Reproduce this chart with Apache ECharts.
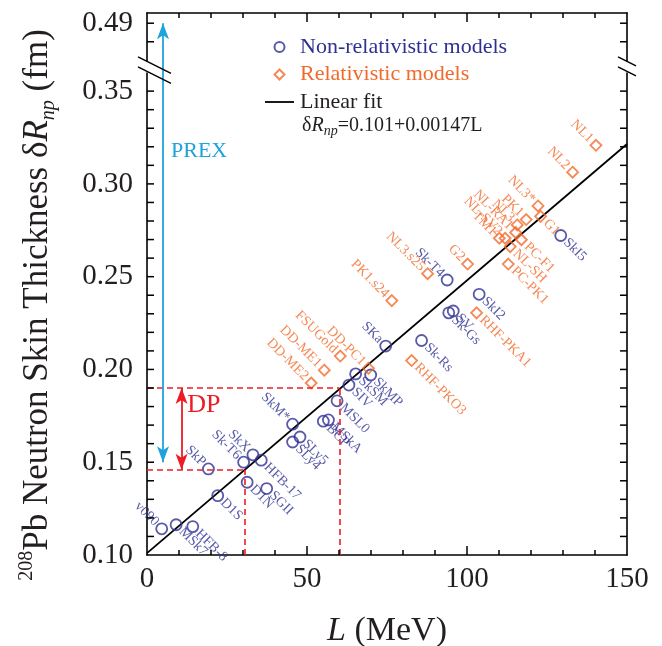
<!DOCTYPE html>
<html><head><meta charset="utf-8">
<script src="https://cdn.jsdelivr.net/npm/echarts@6/dist/echarts.min.js"></script>
<style>html,body{margin:0;padding:0;background:#fff}#c{width:662px;height:646px}</style>
</head><body><div id="c"></div>
<script>
// ---- data ----
const nrNames = ['v090','MSk7','HFB-8','D1S','SkP','D1N','SGII','Sk-T6','SkX','HFB-17','SkM*','SLy5','SLy4','MSkA','BCP','MSL0','SIV','SkSM','SkMP','SKa','Sk-Rs','SV','Sk-Gs','Sk-T4','SkI2','SkI5'];
const nrL = [4.6, 9.1, 14.3, 22.1, 19.2, 31.3, 37.4, 30.2, 33.1, 35.7, 45.5, 47.8, 45.5, 56.7, 55.1, 59.4, 63.1, 65.2, 69.9, 74.6, 85.8, 95.7, 94.3, 93.8, 103.8, 129.3];
const nrR = [0.1141, 0.1163, 0.1153, 0.1320, 0.1464, 0.1392, 0.1358, 0.1500, 0.1540, 0.1511, 0.1705, 0.1636, 0.1609, 0.1728, 0.1721, 0.1831, 0.1916, 0.1976, 0.1970, 0.2126, 0.2156, 0.2315, 0.2305, 0.2482, 0.2405, 0.2722];

const rNames = ['DD-ME2','DD-ME1','FSUGold','DD-PC1','PK1.s24','NL3.s25','RHF-PKO3','RHF-PKA1','G2','TM1','NL-SV2','NL-RA1','NL3','PK1','NL3*','G1','PC-F1','NL-SH','PC-PK1','NL2','NL1'];
const rL = [51.3, 55.4, 60.4, 69.2, 76.5, 87.7, 82.7, 103.0, 100.2, 110.1, 111.9, 115.2, 115.7, 118.5, 122.2, 123.0, 117.0, 113.5, 112.9, 133.0, 140.3];
const rR = [0.1927, 0.1996, 0.2072, 0.2006, 0.2371, 0.2516, 0.2048, 0.2305, 0.2568, 0.2707, 0.2707, 0.2738, 0.2779, 0.2808, 0.2881, 0.2825, 0.2699, 0.2662, 0.2568, 0.3063, 0.3208];

const fitIntercept = 0.101, fitSlope = 0.00147, fitLRange = [0, 150];
const prexL = 5, prexRange = [0.15, 0.49];
const dpL = 10.8, dpRange = [0.146, 0.19], dpCrossL = [30.7, 60.1];
const prexTextAt = [7.5, 0.3175], dpTextAt = [12.6, 0.181];
const yLabelValues = [0.10, 0.15, 0.20, 0.25, 0.30, 0.35, 0.49];
const yBreak = [0.36, 0.47];
const xRange = [0, 150], yRange = [0.10, 0.4955];

// ---- style ----
const BLUE = '#2e3192', ORANGE = '#f26a2a', CYAN = '#1ea3dc', RED = '#ed1c24', INK = '#231f20';
const SERIF = "'Liberation Serif','Times New Roman',serif";
const upLeftLabels = new Set(['v090','SkP','Sk-T6','SkX','SkM*','SKa','Sk-T4',
  'DD-ME2','DD-ME1','FSUGold','DD-PC1','PK1.s24','NL3.s25','G2','TM1','NL-SV2','NL-RA1','NL3','PK1','NL3*','NL2','NL1']);

function makeData(names, Ls, Rs) {
  return names.map((n, i) => ({
    name: n, value: [Ls[i], Rs[i]],
    label: upLeftLabels.has(n) ? { align: 'right', offset: [-7, 0] } : { align: 'left', offset: [7, 0] }
  }));
}
function ptLabel(color) {
  return { show: true, position: 'inside', formatter: '{b}', rotate: -45, verticalAlign: 'middle',
           color: color, fontFamily: SERIF, fontSize: 14 };
}
const fitData = fitLRange.map(L => [L, fitIntercept + fitSlope * L]);

function yFmt(v) {
  const k = Math.round(v * 100);
  if (Math.abs(v * 100 - k) > 1e-6) return '';
  return yLabelValues.some(t => Math.round(t * 100) === k) ? v.toFixed(2) : '';
}
const yCommon = {
  type: 'value', min: yRange[0], max: yRange[1], interval: 0.01,
  breaks: [{ start: yBreak[0], end: yBreak[1], gap: 0.0066 }],
  breakArea: { show: false, itemStyle: { opacity: 0, borderWidth: 0 }, zigzagAmplitude: 0 },
  axisLine: { show: true, onZero: false, lineStyle: { color: '#000', width: 1.6 } },
  axisTick: { show: false },
  splitLine: { show: false }
};
const xCommon = {
  type: 'value', min: xRange[0], max: xRange[1], interval: 50,
  axisLine: { show: true, onZero: false, lineStyle: { color: '#000', width: 1.6 } },
  axisTick: { show: false }, minorTick: { show: false },
  splitLine: { show: false }, minorSplitLine: { show: false }
};

const option = {
  animation: false,
  backgroundColor: '#fff',
  grid: { left: 147, right: 35, top: 13, bottom: 91, outerBoundsMode: 'none', containLabel: false },
  xAxis: [
    Object.assign({}, xCommon, {
      position: 'bottom',
      axisLabel: { fontFamily: SERIF, fontSize: 29, color: INK, margin: 10 },
      name: '{it|L} (MeV)', nameLocation: 'middle', nameGap: 59,
      nameTextStyle: { fontFamily: SERIF, fontSize: 34, color: INK,
        rich: { it: { fontFamily: SERIF, fontSize: 34, fontStyle: 'italic', color: INK } } }
    }),
    Object.assign({}, xCommon, { position: 'top', axisLabel: { show: false } })
  ],
  yAxis: [
    Object.assign({}, yCommon, {
      position: 'left',
      axisLabel: { fontFamily: SERIF, fontSize: 29, color: INK, margin: 14, padding: [5, 0, 0, 0], formatter: yFmt }
    }),
    Object.assign({}, yCommon, { position: 'right', axisLabel: { show: false } })
  ],
  legend: {
    orient: 'vertical', left: 260, top: 31, itemWidth: 29, itemHeight: 10, itemGap: 5.5,
    symbolKeepAspect: true,
    textStyle: { fontFamily: SERIF, fontSize: 22, padding: [0, 0, 0, 1] },
    selectedMode: false,
    data: [
      { name: 'Non-relativistic models', textStyle: { color: BLUE } },
      { name: 'Relativistic models', icon: 'path://M5,0 L10,5 L5,10 L0,5 Z', textStyle: { color: ORANGE } },
      { name: 'Linear fit', icon: 'path://M0,0 H29 V1.8 H0 Z', textStyle: { color: INK } }
    ]
  },
  series: [
    {
      name: 'Linear fit', type: 'line', data: fitData, showSymbol: false, symbol: 'none',
      lineStyle: { color: '#000', width: 1.8 }, itemStyle: { color: '#000' }, silent: true, z: 2
    },
    {
      name: 'Non-relativistic models', type: 'scatter', symbol: 'circle', symbolSize: 11,
      itemStyle: { color: 'rgba(255,255,255,0)', borderColor: BLUE, borderWidth: 1.8 },
      label: ptLabel(BLUE), data: makeData(nrNames, nrL, nrR), silent: true, z: 3
    },
    {
      name: 'Relativistic models', type: 'scatter', symbol: 'diamond', symbolSize: 11,
      itemStyle: { color: 'rgba(255,255,255,0)', borderColor: ORANGE, borderWidth: 1.8 },
      label: ptLabel(ORANGE), data: makeData(rNames, rL, rR), silent: true, z: 3
    },
    {
      name: 'dashes', type: 'scatter', data: [], silent: true, z: 1,
      markLine: {
        silent: true, animation: false, symbol: ['none', 'none'], label: { show: false },
        lineStyle: { color: RED, width: 1.6, type: [6, 4] },
        data: [
          [{ coord: [xRange[0], dpRange[1]] }, { coord: [dpCrossL[1], dpRange[1]] }],
          [{ coord: [xRange[0], dpRange[0]] }, { coord: [dpCrossL[0], dpRange[0]] }],
          [{ coord: [dpCrossL[0], yRange[0]] }, { coord: [dpCrossL[0], dpRange[0]] }],
          [{ coord: [dpCrossL[1], yRange[0]] }, { coord: [dpCrossL[1], dpRange[1]] }]
        ]
      }
    },
    {
      name: 'arrows', type: 'scatter', data: [], silent: true, z: 4,
      markLine: {
        silent: true, animation: false, symbol: ['arrow', 'arrow'], symbolSize: [9, 16],
        label: { show: false },
        data: [
          [{ coord: [prexL, prexRange[0]], lineStyle: { color: CYAN, width: 1.8, type: 'solid' }, itemStyle: { color: CYAN } },
           { coord: [prexL, prexRange[1]], itemStyle: { color: CYAN } }],
          [{ coord: [dpL, dpRange[0]], lineStyle: { color: RED, width: 1.8, type: 'solid' }, itemStyle: { color: RED } },
           { coord: [dpL, dpRange[1]], itemStyle: { color: RED } }]
        ]
      },
      markPoint: {
        silent: true, animation: false, symbol: 'rect', symbolSize: 1,
        itemStyle: { color: 'rgba(0,0,0,0)' },
        data: [
          { coord: prexTextAt, label: { show: true, position: 'inside', align: 'left', formatter: 'PREX',
              color: CYAN, fontFamily: SERIF, fontSize: 22 } },
          { coord: dpTextAt, label: { show: true, position: 'inside', align: 'left', formatter: 'DP',
              color: RED, fontFamily: SERIF, fontSize: 26 } }
        ]
      }
    }
  ]
};

const chart = echarts.init(document.getElementById('c'), null, { renderer: 'canvas' });
chart.setOption(option);

// ---- break marks, ticks (values from the library's own axis scales) & texts ----
const toX = v => chart.convertToPixel({ xAxisIndex: 0 }, v);
const toY = v => chart.convertToPixel({ yAxisIndex: 0 }, v);
const gL = toX(xRange[0]), gR = toX(xRange[1]), gBot = toY(yRange[0]), gTop = toY(yRange[1]);
const g = [];
const y36 = toY(yBreak[0]), y47 = toY(yBreak[1]);
const mid = (y36 + y47) / 2;
const xp = toX(prexL);
function cover(x, y, w, h) { g.push({ type: 'rect', shape: { x, y, width: w, height: h }, style: { fill: '#fff' }, z: 100, silent: true }); }
function seg(x1, y1, x2, y2) { g.push({ type: 'line', shape: { x1: x1, y1: y1, x2: x2, y2: y2 }, style: { stroke: '#000', lineWidth: 1.5 }, z: 101, silent: true }); }
function slash(x0, yk, a, b) { seg(x0 + a, yk + 0.5 * a, x0 + b, yk + 0.5 * b); }
cover(gL - 3, mid - 5, 6, 10);
cover(gR - 3, mid - 5, 6, 10);
[mid - 5, mid + 5].forEach(yk => { slash(gL, yk, -9, (xp - gL) + 8); slash(gR, yk, -9, 9); });

function vtick(p, len) { seg(p, gBot, p, gBot - len); seg(p, gTop, p, gTop + len); }
function htick(p, len) { seg(gL, p, gL + len, p); seg(gR, p, gR - len, p); }
const tv = t => (typeof t === 'number' ? t : (t && typeof t.value === 'number' ? t.value : NaN));
let xMajor = [], yTicks = [];
try { xMajor = chart.getModel().getComponent('xAxis', 0).axis.scale.getTicks().map(tv).filter(v => isFinite(v)); } catch (e) {}
try { yTicks = chart.getModel().getComponent('yAxis', 0).axis.scale.getTicks().map(tv).filter(v => isFinite(v)); } catch (e) {}
const xMinor = [];
for (let i = 0; i + 1 < xMajor.length; i++) for (let k = 1; k < 5; k++) xMinor.push(xMajor[i] + (xMajor[i + 1] - xMajor[i]) * k / 5);
xMajor.forEach(v => { const p = toX(v); if (p > gL + 1 && p < gR - 1) vtick(p, 9); });
xMinor.forEach(v => vtick(toX(v), 5));
yTicks.forEach(v => {
  if (Math.abs(v * 100 - Math.round(v * 100)) > 1e-6) return;
  if (v >= yBreak[0] - 1e-9 && v <= yBreak[1] + 1e-9) return;
  if (v <= yRange[0] + 1e-9) return;
  htick(toY(v), 7);
});

g.push({
  type: 'text', x: 38, y: 305, rotation: Math.PI / 2, z: 100, silent: true,
  style: {
    text: '{sup|208}Pb Neutron Skin Thickness δ{it|R}{sub|np} (fm)',
    fontFamily: SERIF, fontSize: 35, fill: INK, align: 'center', verticalAlign: 'middle',
    rich: {
      sup: { fontFamily: SERIF, fontSize: 20, lineHeight: 22, verticalAlign: 'top', fill: INK },
      it: { fontFamily: SERIF, fontSize: 35, fontStyle: 'italic', lineHeight: 42, fill: INK },
      sub: { fontFamily: SERIF, fontSize: 20, fontStyle: 'italic', lineHeight: 22, verticalAlign: 'bottom', fill: INK }
    }
  }
});
g.push({
  type: 'text', x: 302, y: 126, z: 100, silent: true,
  style: {
    text: 'δ{it|R}{sub|np}=0.101+0.00147L',
    fontFamily: SERIF, fontSize: 20, fill: INK, align: 'left', verticalAlign: 'middle',
    rich: {
      it: { fontFamily: SERIF, fontSize: 20, fontStyle: 'italic', lineHeight: 24, fill: INK },
      sub: { fontFamily: SERIF, fontSize: 14, fontStyle: 'italic', lineHeight: 14, verticalAlign: 'bottom', fill: INK }
    }
  }
});
chart.setOption({ graphic: g });
</script>
</body></html>
